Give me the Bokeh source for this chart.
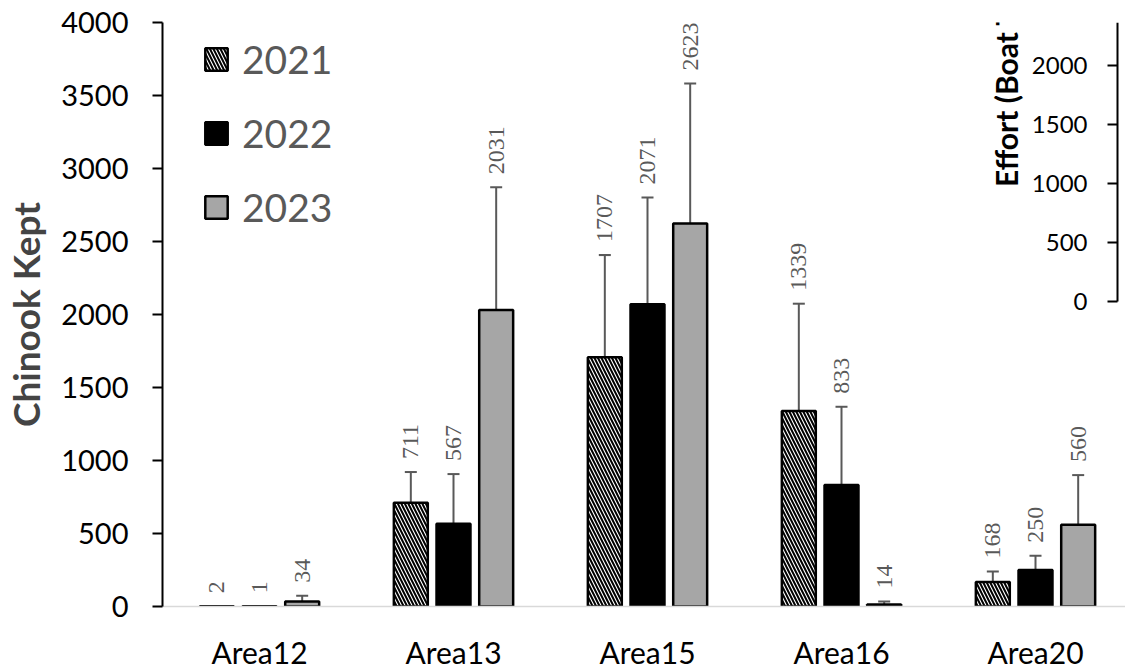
import numpy as np
from bokeh.plotting import figure
from bokeh.models import (ColumnDataSource, Range1d, LinearAxis, FixedTicker, Whisker,
                          LabelSet, Legend, LegendItem, Label, TeeHead)
from bokeh.transform import dodge
from bokeh.embed import file_html
from bokeh.resources import INLINE

# ---------------- data ----------------
areas = ["Area12", "Area13", "Area15", "Area16", "Area20"]
years = ["2021", "2022", "2023"]
kept_2021 = [2, 711, 1707, 1339, 168]
kept_2022 = [1, 567, 2071, 833, 250]
kept_2023 = [34, 2031, 2623, 14, 560]
err_2021 = [0, 210, 700, 735, 72]
err_2022 = [0, 340, 730, 535, 98]
err_2023 = [40, 840, 960, 20, 340]
y_ticks = [0, 500, 1000, 1500, 2000, 2500, 3000, 3500, 4000]
effort_ticks = [0, 500, 1000, 1500, 2000, 2500]

FONT = "Lato"
GRAY_TXT = "#595959"

centers = [i + 0.5 for i in range(len(areas))]
X_END = 963 / 194      # visible part of the category axis (original is cropped at right)
INSET_X = 955 / 194    # where the cropped inset's axis sits

p = figure(width=1125, height=672, output_backend="svg", toolbar_location=None,
           x_range=Range1d(0, X_END), y_range=Range1d(0, 4000),
           min_border_left=162, min_border_right=0, min_border_top=22, min_border_bottom=64)
p.outline_line_color = None
p.xgrid.visible = False
p.ygrid.visible = False
p.background_fill_color = "white"
p.border_fill_color = "white"

# x axis
xa = p.xaxis[0]
xa.ticker = FixedTicker(ticks=centers)
xa.major_label_overrides = {c: a for c, a in zip(centers, areas)}
xa.axis_line_color = "#d9d9d9"
xa.axis_line_width = 1.5
xa.major_tick_line_color = None
xa.minor_tick_line_color = None
xa.major_tick_out = 0
xa.major_tick_in = 0
xa.major_label_standoff = 27
xa.major_label_text_font = FONT
xa.major_label_text_font_size = "30px"
xa.major_label_text_color = "black"

# y axis
ya = p.yaxis[0]
ya.ticker = FixedTicker(ticks=y_ticks)
ya.axis_line_width = 2
ya.axis_line_color = "black"
ya.major_tick_line_width = 2
ya.major_tick_out = 10
ya.major_tick_in = 0
ya.minor_tick_line_color = None
ya.major_label_standoff = 24
ya.major_label_text_font = FONT
ya.major_label_text_font_size = "29px"
ya.major_label_text_color = "black"
ya.axis_label = "Chinook Kept"
ya.axis_label_text_font = FONT
ya.axis_label_text_font_style = "bold"
ya.axis_label_text_font_size = "37px"
ya.axis_label_standoff = 10

offsets = [-0.22, 0.0, 0.22]
series_vals = [kept_2021, kept_2022, kept_2023]
series_errs = [err_2021, err_2022, err_2023]
styles = [
    dict(fill_color="white", hatch_pattern="\\", hatch_color="black", hatch_weight=2, hatch_scale=7),
    dict(fill_color="black"),
    dict(fill_color="#a6a6a6"),
]

renderers = []
for vals, errs, off, st in zip(series_vals, series_errs, offsets, styles):
    vals = np.array(vals, dtype=float)
    errs = np.array(errs, dtype=float)
    src = ColumnDataSource(dict(
        x=centers, top=vals, upper=vals + errs, lower=np.maximum(vals - errs, 0),
        label=[str(int(v)) for v in vals]))
    r = p.vbar(x=dodge("x", off), top="top", bottom=0, width=0.175, source=src,
               line_color="black", line_width=2.5, **st)
    renderers.append(r)
    w = Whisker(source=src, base=dodge("x", off), upper="upper", lower="lower",
                line_color="#595959", line_width=2,
                upper_head=TeeHead(size=12, line_color="#595959", line_width=2),
                lower_head=TeeHead(size=12, line_color="#595959", line_width=2))
    p.add_layout(w)
    ls = LabelSet(source=src, x=dodge("x", off), y="upper", text="label",
                  angle=np.pi / 2, text_align="left", text_baseline="middle",
                  y_offset=13, text_font=FONT, text_font_size="24px",
                  text_color=GRAY_TXT)
    p.add_layout(ls)

legend = Legend(items=[LegendItem(label=y, renderers=[r]) for y, r in zip(years, renderers)],
                location=(40, 376), glyph_width=28, glyph_height=28,
                label_text_font=FONT, label_text_font_size="39px", label_text_color=GRAY_TXT,
                spacing=28, padding=0, margin=0, label_standoff=12,
                border_line_color=None, background_fill_alpha=0)
p.add_layout(legend)

# inset effort axis (partially visible, cropped in the original)
p.extra_y_ranges = {"effort": Range1d(-2586, 2366)}
ea = LinearAxis(y_range_name="effort", fixed_location=INSET_X, bounds=(0, 2500),
                ticker=FixedTicker(ticks=effort_ticks))
ea.axis_line_width = 2
ea.axis_line_color = "black"
ea.major_tick_line_width = 2
ea.major_tick_out = 10
ea.major_tick_in = 0
ea.minor_tick_line_color = None
ea.major_label_standoff = 20
ea.major_label_text_font = FONT
ea.major_label_text_font_size = "24px"
ea.major_label_text_color = "black"
p.add_layout(ea, "left")

p.add_layout(Label(x=INSET_X, y=972, y_range_name="effort", text="Effort (Boat Trips)",
                   angle=np.pi / 2, text_align="left", text_baseline="middle",
                   x_offset=-112, text_font=FONT, text_font_style="bold",
                   text_font_size="30px", text_color="black"))

open("out.html", "w").write(file_html(p, INLINE))
